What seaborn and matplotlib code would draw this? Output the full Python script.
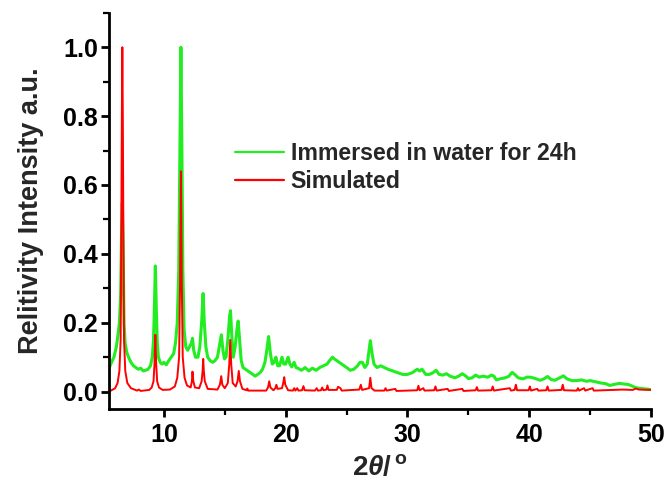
import matplotlib
matplotlib.use("Agg")
import matplotlib.pyplot as plt
import seaborn as sns
import pandas as pd
from matplotlib.ticker import MultipleLocator

# ---- data ----
sim_x = [5.5, 6.0, 6.2, 6.35, 6.45, 6.51, 6.55, 6.59, 6.63, 6.67, 6.73, 6.83, 7.0, 7.3, 7.8, 7.95, 8.1,
         8.8, 9.0, 9.15, 9.23, 9.3, 9.37, 9.45, 9.6, 9.9, 10.5, 10.9, 11.1, 11.25, 11.33, 11.37, 11.40,
         11.43, 11.47, 11.55, 11.7, 11.9, 12.2, 12.3, 12.35, 12.42, 12.55, 12.9, 13.1, 13.18, 13.23,
         13.28, 13.36, 13.6, 14.4, 14.6, 14.71, 14.8, 15.0, 15.25, 15.37, 15.45, 15.53, 15.65, 15.9,
         16.05, 16.15, 16.25, 16.45, 16.8, 16.85, 16.92, 18.4, 18.55, 18.65, 18.75, 19.0, 19.15, 19.24,
         19.33, 19.7, 19.8, 19.88, 19.97, 20.2, 20.6, 20.7, 20.8, 20.95, 21.05, 21.35, 21.46, 21.56,
         22.4, 22.55, 22.65, 22.9, 23.0, 23.1, 23.35, 23.43, 23.52, 24.2, 24.3, 24.5, 24.6, 26.05,
         26.17, 26.28, 26.85, 26.95, 27.05, 27.3, 28.1, 28.2, 28.3, 29.0, 29.1, 30.8, 30.9, 31.0,
         31.3, 31.4, 32.2, 32.3, 32.4, 33.3, 33.4, 34.5, 34.6, 35.6, 35.7, 35.8, 36.9, 37.0, 37.1,
         38.4, 38.5, 38.8, 38.9, 39.0, 39.95, 40.05, 40.15, 40.65, 40.75, 41.4, 41.5, 41.6, 42.65,
         42.75, 42.85, 43.9, 44.0, 44.1, 44.5, 44.6, 45.2, 45.3, 47.7, 48.5, 48.75, 49.0, 50.0]
sim_y = [0.0, 0.01, 0.025, 0.06, 0.15, 0.5, 0.8, 1.0, 0.8, 0.5, 0.15, 0.06, 0.025, 0.01, 0.003, 0.006, 0.002,
         0.005, 0.012, 0.03, 0.08, 0.165, 0.08, 0.03, 0.012, 0.005, 0.006, 0.015, 0.04, 0.1, 0.32, 0.52, 0.64,
         0.52, 0.32, 0.1, 0.04, 0.018, 0.012, 0.03, 0.058, 0.03, 0.012, 0.01, 0.03, 0.06, 0.095,
         0.06, 0.03, 0.008, 0.006, 0.02, 0.045, 0.02, 0.01, 0.025, 0.08, 0.15, 0.08, 0.025, 0.015,
         0.03, 0.06, 0.03, 0.008, 0.004, 0.009, 0.003, 0.003, 0.012, 0.03, 0.012, 0.004, 0.01, 0.02,
         0.008, 0.01, 0.025, 0.042, 0.02, 0.004, 0.003, 0.01, 0.003, 0.01, 0.003, 0.004, 0.016, 0.004,
         0.003, 0.01, 0.003, 0.004, 0.012, 0.004, 0.006, 0.018, 0.005, 0.005, 0.014, 0.01, 0.003, 0.006,
         0.02, 0.005, 0.01, 0.04, 0.01, 0.003, 0.003, 0.01, 0.003, 0.008, 0.002, 0.004, 0.017, 0.004,
         0.01, 0.003, 0.004, 0.015, 0.003, 0.008, 0.002, 0.008, 0.002, 0.004, 0.013, 0.003, 0.004, 0.015, 0.003,
         0.01, 0.003, 0.005, 0.02, 0.004, 0.004, 0.015, 0.003, 0.008, 0.003, 0.004, 0.015, 0.003, 0.005,
         0.02, 0.004, 0.003, 0.01, 0.003, 0.01, 0.003, 0.01, 0.003, 0.006, 0.005, 0.009, 0.006, 0.005]

wet_x = [5.5, 5.7, 5.9, 6.1, 6.25, 6.35, 6.45, 6.52, 6.59, 6.66, 6.73, 6.82, 6.95, 7.1, 7.3, 7.5, 7.7, 7.9,
         8.1, 8.3, 8.5, 8.7, 8.9, 9.05, 9.15, 9.22, 9.3, 9.38, 9.46, 9.55, 9.7, 9.85, 10.0, 10.2, 10.4,
         10.6, 10.8, 10.95, 11.1, 11.22, 11.32, 11.4, 11.48, 11.56, 11.66, 11.8, 11.95, 12.1, 12.25,
         12.35, 12.45, 12.6, 12.8, 12.95, 13.1, 13.22, 13.32, 13.45, 13.6, 13.8, 14.0, 14.2, 14.4,
         14.55, 14.72, 14.85, 14.98, 15.1, 15.25, 15.4, 15.47, 15.58, 15.7, 15.85, 16.0, 16.1, 16.22,
         16.35, 16.5, 16.7, 16.9, 17.1, 17.3, 17.5, 17.7, 17.9, 18.1, 18.3, 18.45, 18.6, 18.75, 18.9,
         19.05, 19.2, 19.35, 19.5, 19.7, 19.85, 20.0, 20.2, 20.35, 20.5, 20.7, 20.85, 21.0, 21.3, 21.6,
         21.9, 22.2, 22.5, 22.8, 23.1, 23.4, 23.6, 23.85, 24.0, 24.2, 24.4, 24.6, 24.8, 25.0, 25.3,
         25.6, 25.9, 26.1, 26.3, 26.5, 26.7, 26.85, 26.95, 27.1, 27.25, 27.5, 27.8, 28.1, 28.4, 28.8,
         29.2, 29.6, 30.0, 30.4, 30.8, 31.0, 31.2, 31.5, 31.8, 32.1, 32.35, 32.6, 32.9, 33.2, 33.5,
         33.9, 34.2, 34.5, 34.8, 35.0, 35.3, 35.6, 35.9, 36.2, 36.6, 36.9, 37.1, 37.3, 37.6, 38.0,
         38.3, 38.6, 38.8, 39.1, 39.5, 39.8, 40.1, 40.5, 40.9, 41.2, 41.5, 41.8, 42.1, 42.5, 42.8,
         43.1, 43.5, 43.9, 44.3, 44.7, 45.0, 45.5, 45.9, 46.3, 46.6, 47.0, 47.4, 47.8, 48.1, 48.4,
         48.7, 49.0, 49.5, 50.0]
wet_y = [0.068, 0.085, 0.1, 0.13, 0.17, 0.2, 0.28, 0.45, 0.55, 0.4, 0.2, 0.14, 0.115, 0.1, 0.085, 0.075, 0.07, 0.065,
         0.068, 0.06, 0.062, 0.065, 0.075, 0.1, 0.15, 0.24, 0.365, 0.24, 0.14, 0.1, 0.085, 0.08, 0.085, 0.078, 0.09,
         0.1, 0.11, 0.14, 0.2, 0.35, 0.7, 1.0, 0.7, 0.35, 0.18, 0.13, 0.12, 0.13, 0.14,
         0.155, 0.12, 0.1, 0.1, 0.13, 0.2, 0.285, 0.2, 0.13, 0.1, 0.09, 0.085, 0.09, 0.1,
         0.13, 0.165, 0.12, 0.095, 0.1, 0.15, 0.22, 0.235, 0.16, 0.1, 0.13, 0.18, 0.205, 0.15,
         0.09, 0.07, 0.065, 0.06, 0.055, 0.05, 0.045, 0.05, 0.055, 0.065, 0.085, 0.12, 0.16, 0.11, 0.08,
         0.085, 0.1, 0.075, 0.075, 0.1, 0.08, 0.08, 0.1, 0.08, 0.072, 0.085, 0.07, 0.068, 0.062, 0.07,
         0.06, 0.068, 0.062, 0.07, 0.075, 0.08, 0.09, 0.1, 0.095, 0.09, 0.085, 0.08, 0.075, 0.07, 0.062,
         0.065, 0.075, 0.085, 0.085, 0.07, 0.08, 0.12, 0.148, 0.11, 0.08, 0.07, 0.075, 0.07, 0.065, 0.06,
         0.055, 0.05, 0.05, 0.055, 0.065, 0.06, 0.065, 0.05, 0.05, 0.055, 0.062, 0.05, 0.048, 0.052, 0.045,
         0.04, 0.045, 0.052, 0.045, 0.038, 0.04, 0.048, 0.042, 0.045, 0.042, 0.048, 0.045, 0.034, 0.037, 0.04,
         0.044, 0.056, 0.05, 0.04, 0.037, 0.042, 0.042, 0.038, 0.033, 0.037, 0.044, 0.035, 0.033, 0.04, 0.046,
         0.037, 0.032, 0.032, 0.034, 0.03, 0.032, 0.028, 0.025, 0.023, 0.018, 0.021, 0.024, 0.022, 0.021, 0.017,
         0.012, 0.01, 0.008, 0.006]

label_wet = "Immersed in water for 24h"
label_sim = "Simulated"
x_ticks = [10, 20, 30, 40, 50]
y_ticks = [0.0, 0.2, 0.4, 0.6, 0.8, 1.0]

# ---- style ----
sns.set_style("ticks")
plt.rcParams['font.family'] = ['Liberation Sans', 'DejaVu Sans']
plt.rcParams['font.weight'] = 'bold'
plt.rcParams['mathtext.fontset'] = 'custom'
plt.rcParams['mathtext.rm'] = 'Liberation Sans:bold'
plt.rcParams['mathtext.it'] = 'Liberation Sans:italic'
plt.rcParams['mathtext.bf'] = 'Liberation Sans:bold'

df = pd.concat([
    pd.DataFrame({"x": wet_x, "y": wet_y, "series": label_wet}),
    pd.DataFrame({"x": sim_x, "y": sim_y, "series": label_sim}),
])

fig = plt.figure(figsize=(6.65, 4.92), dpi=100)
ax = fig.add_axes([0.164, 0.169, 0.815, 0.805])

sns.lineplot(data=df, x="x", y="y", hue="series", hue_order=[label_wet, label_sim],
             palette=[(0.13, 0.93, 0.13), (1.0, 0.0, 0.0)], sort=False, ax=ax,
             linewidth=1.6, estimator=None)
for ln, lw in zip(ax.get_lines(), [2.2, 1.4]):
    ln.set_linewidth(lw)

ax.set_xlim(5.5, 50)
ax.set_ylim(-0.05, 1.10)
ax.set_xticks(x_ticks)
ax.set_yticks(y_ticks)
ax.set_yticklabels([f"{v:.1f}" for v in y_ticks])
ax.xaxis.set_minor_locator(MultipleLocator(5))
ax.yaxis.set_minor_locator(MultipleLocator(0.1))
ax.tick_params(which='major', direction='out', length=6, width=2.0, labelsize=18, colors='black', pad=2)
ax.tick_params(which='minor', direction='out', length=4, width=1.6, colors='black')
ax.tick_params(axis='x', which='major', pad=4)
for lab in ax.get_xticklabels() + ax.get_yticklabels():
    lab.set_fontweight('bold')
for s in ['top', 'right']:
    ax.spines[s].set_visible(False)
for s in ['left', 'bottom']:
    ax.spines[s].set_linewidth(2.0)
    ax.spines[s].set_color('black')

ax.set_xlabel(r"$\mathbf{2}\mathit{\theta}\mathrm{/}\,^{\mathrm{o}}$", fontsize=20, labelpad=6)
ax.set_ylabel("Relitivity Intensity a.u.", fontsize=19.5, fontweight='bold', labelpad=14)

leg = ax.legend(loc='center left', bbox_to_anchor=(0.3534, 0.659), bbox_transform=fig.transFigure,
                frameon=False, fontsize=16.7, handlelength=2.1, handletextpad=0.3, labelspacing=0.2,
                borderpad=0, borderaxespad=0)
for t in leg.get_texts():
    t.set_fontweight('bold')

fig.savefig("out.png", dpi=100)
